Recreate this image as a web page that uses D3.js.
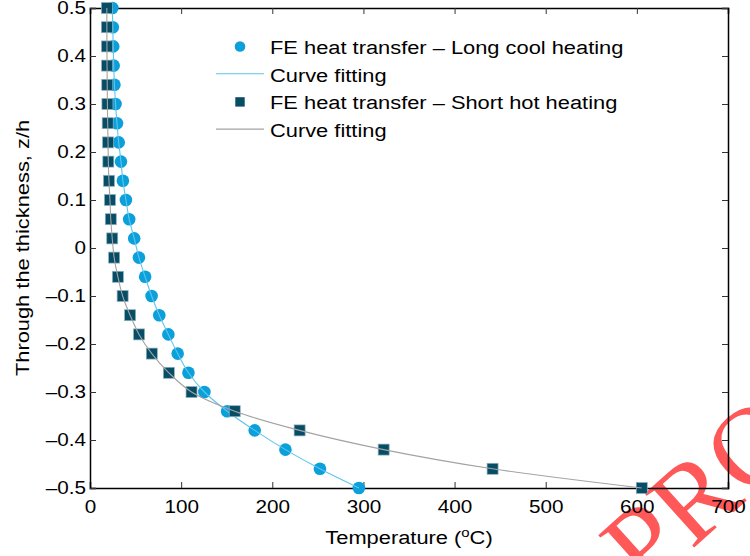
<!DOCTYPE html>
<html>
<head>
<meta charset="utf-8">
<script src="https://cdn.jsdelivr.net/npm/d3@7"></script>
<style>
  body { margin: 0; background: #fff; }
  svg { display: block; font-family: "Liberation Sans", Arial, sans-serif; }
</style>
</head>
<body>
<div id="chart"></div>
<script>
// through-thickness position z/h
const zLevels = [0.5, 0.46, 0.42, 0.38, 0.34, 0.3, 0.26, 0.22, 0.18, 0.14, 0.1, 0.06, 0.02,
  -0.02, -0.06, -0.1, -0.14, -0.18, -0.22, -0.26, -0.3, -0.34, -0.38, -0.42, -0.46, -0.5];

// FE heat transfer temperatures (deg C)
const longCool = [24.5, 25, 25.5, 26, 26.8, 28, 29.6, 31.5, 34, 36.1, 39.4, 43, 48.5,
  53.7, 60.5, 67.6, 76, 86, 96.2, 108, 125.5, 150.5, 180.7, 214.4, 252.3, 295];
const shortHot = [18.5, 18.5, 18.6, 18.7, 18.9, 19.1, 19.4, 19.8, 20.1, 20.8, 21.9, 22.8, 24.4,
  26.5, 30.6, 35.8, 44, 53.8, 67.8, 86.5, 111.4, 158.8, 230, 322.2, 441.7, 605.4];

const xTicks = [0, 100, 200, 300, 400, 500, 600, 700];
const yTicks = [-0.5, -0.4, -0.3, -0.2, -0.1, 0, 0.1, 0.2, 0.3, 0.4, 0.5];

const legendLabels = ["FE heat transfer \u2013 Long cool heating", "Curve fitting",
  "FE heat transfer \u2013 Short hot heating", "Curve fitting"];

// colours
const cCircle = "#0ba0da", cFitBlue = "#5cc6ef", cSquare = "#084d66", cFitGray = "#a3a3a3";

const W = 750, H = 556;
const m = {left: 90, right: 22, top: 8, bottom: 68};
const sx = 1.15; // glyphs in the reference are a bit wider than Arial

const svg = d3.select("#chart").append("svg").attr("width", W).attr("height", H);

// watermark (behind everything)
svg.append("text")
  .attr("transform", "translate(645,592) rotate(-42)")
  .style("font-family", "'Liberation Serif', 'Times New Roman', serif")
  .style("font-size", "112px")
  .attr("fill", "#ff3b3b")
  .attr("opacity", 0.85)
  .text("PRO");

const x = d3.scaleLinear().domain([0, 700]).range([m.left, W - m.right]);
const y = d3.scaleLinear().domain([-0.5, 0.5]).range([H - m.bottom, m.top]);

const fmtY = d => (d < 0 ? "\u2013" : "") + d3.format("")(Math.abs(d));

// axes, ticks pointing in
const gx = svg.append("g").attr("transform", `translate(0,${y(-0.5)})`)
  .call(d3.axisBottom(x).tickValues(xTicks).tickSize(-6).tickPadding(12).tickFormat(d3.format("d")));
const gxTop = svg.append("g").attr("transform", `translate(0,${y(0.5)})`)
  .call(d3.axisTop(x).tickValues(xTicks).tickSize(-6).tickFormat(""));
const gy = svg.append("g").attr("transform", `translate(${x(0)},0)`)
  .call(d3.axisLeft(y).tickValues(yTicks).tickSize(-6).tickPadding(4).tickFormat(fmtY));
const gyR = svg.append("g").attr("transform", `translate(${x(700)},0)`)
  .call(d3.axisRight(y).tickValues(yTicks).tickSize(-6).tickFormat(""));

[gx, gxTop, gy, gyR].forEach(g => {
  g.select(".domain").attr("stroke", "#000").attr("stroke-width", 1.5);
  g.selectAll(".tick line").attr("stroke", "#333").attr("stroke-width", 1);
  g.selectAll("text").attr("fill", "#000").style("font-size", "18px")
    .style("font-family", "'Liberation Sans', Arial, sans-serif");
});
gx.selectAll(".tick text").attr("transform", `scale(${sx},1)`);
gy.selectAll(".tick text").attr("x", -4 / sx).attr("transform", `scale(${sx},1)`);

// data
const ptsLong = zLevels.map((z, i) => [longCool[i], z]);
const ptsShort = zLevels.map((z, i) => [shortHot[i], z]);

const line = d3.line().x(d => x(d[0])).y(d => y(d[1])).curve(d3.curveCatmullRom.alpha(0.5));

svg.append("g").selectAll("circle").data(ptsLong).join("circle")
  .attr("cx", d => x(d[0])).attr("cy", d => y(d[1])).attr("r", 6.3)
  .attr("fill", cCircle);
svg.append("path").attr("d", line(ptsLong)).attr("fill", "none")
  .attr("stroke", cFitBlue).attr("stroke-width", 1.1);

const sq = 11;
svg.append("g").selectAll("rect").data(ptsShort).join("rect")
  .attr("x", d => x(d[0]) - sq / 2).attr("y", d => y(d[1]) - sq / 2)
  .attr("width", sq).attr("height", sq)
  .attr("fill", cSquare).attr("stroke", "#8eb2c0").attr("stroke-width", 0.7);
svg.append("path").attr("d", line(ptsShort)).attr("fill", "none")
  .attr("stroke", cFitGray).attr("stroke-width", 1.1);

// legend
const lg = svg.append("g");
const rowY = [54, 81.7, 109.4, 137.1];
lg.append("circle").attr("cx", 240).attr("cy", rowY[0] - 7.5).attr("r", 5.3).attr("fill", cCircle);
lg.append("line").attr("x1", 216).attr("x2", 264).attr("y1", rowY[1] - 8).attr("y2", rowY[1] - 8)
  .attr("stroke", cFitBlue).attr("stroke-width", 1.1);
lg.append("rect").attr("x", 240 - 4.7).attr("y", rowY[2] - 7.5 - 4.7).attr("width", 9.4).attr("height", 9.4)
  .attr("fill", cSquare);
lg.append("line").attr("x1", 216).attr("x2", 264).attr("y1", rowY[3] - 8).attr("y2", rowY[3] - 8)
  .attr("stroke", cFitGray).attr("stroke-width", 1.1);
lg.selectAll("text").data(legendLabels).join("text")
  .attr("transform", (d, i) => `translate(270,${rowY[i]}) scale(${sx},1)`)
  .style("font-size", "19px").attr("fill", "#000")
  .text(d => d);

// axis titles
const xt = svg.append("text")
  .attr("transform", `translate(${(x(0) + x(700)) / 2},544) scale(${sx},1)`)
  .attr("text-anchor", "middle").style("font-size", "19px");
xt.append("tspan").text("Temperature (");
xt.append("tspan").attr("baseline-shift", "super").style("font-size", "13px").text("o");
xt.append("tspan").text("C)");

svg.append("text")
  .attr("transform", `translate(29,${(y(0.5) + y(-0.5)) / 2}) rotate(-90) scale(${sx},1)`)
  .attr("text-anchor", "middle").style("font-size", "19px")
  .text("Through the thickness, z/h");
</script>
</body>
</html>
